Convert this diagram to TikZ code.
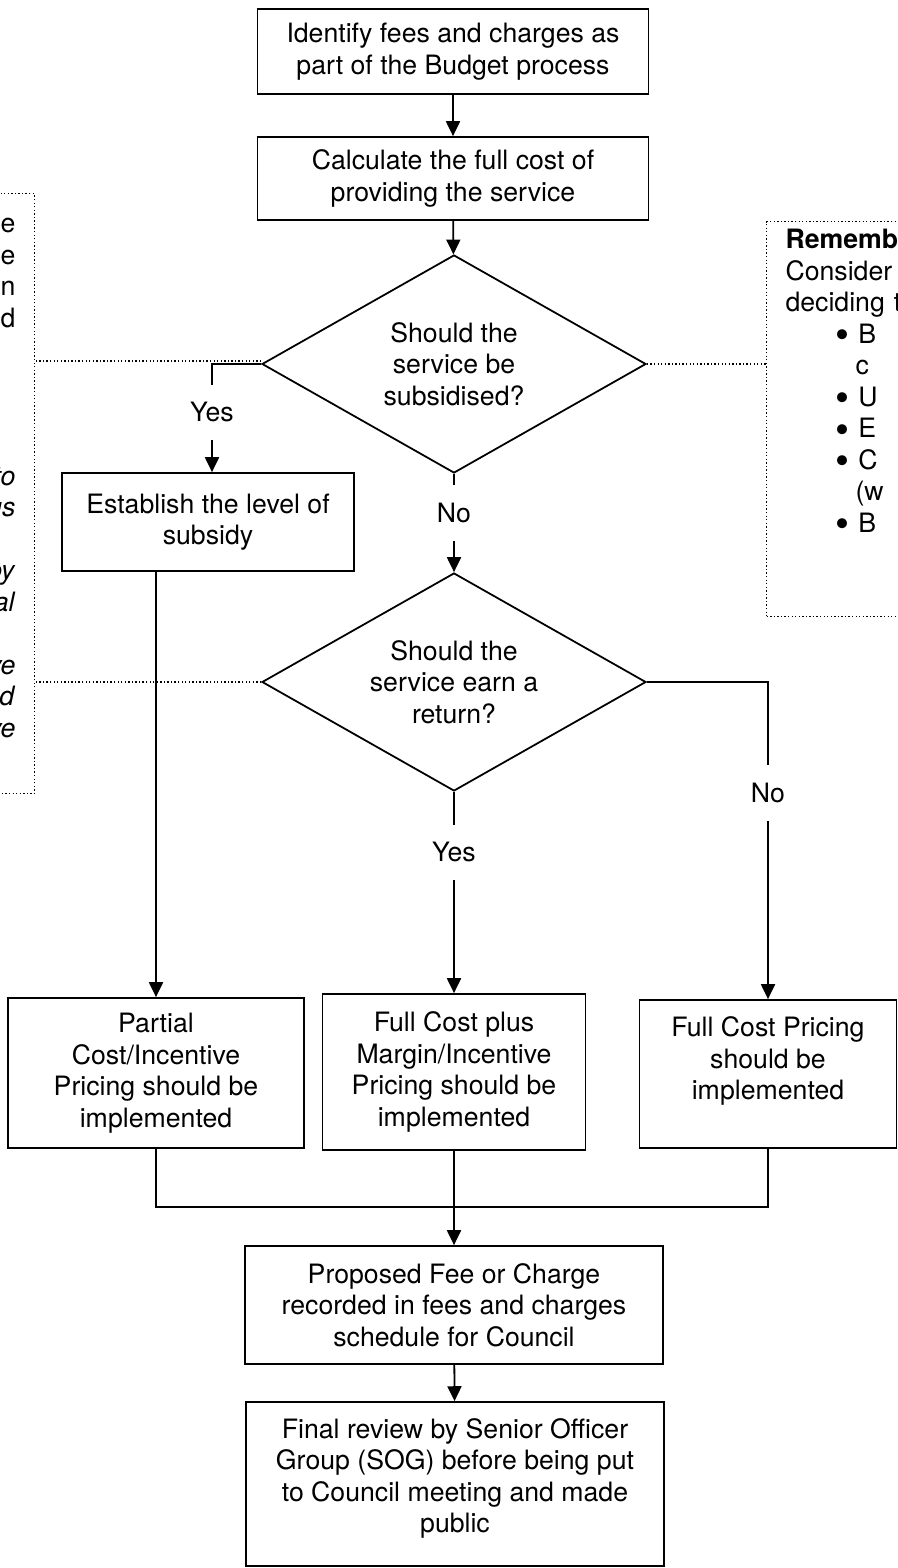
\documentclass[tikz,border=0pt]{standalone}
\usepackage{fontspec}
\setmainfont{TeX Gyre Heros}
\usetikzlibrary{shapes.geometric,arrows.meta}

\newcommand{\dotitem}{\hspace*{22.5pt}\raisebox{-2.4pt}{\scalebox{1.5}{\textbullet}}\hspace*{4pt}}

\tikzset{
  stepbox/.style={draw, line width=0.8pt, align=center, inner sep=0pt},
  decide/.style={diamond, draw, line width=0.8pt, align=center, inner sep=0pt,
    shape aspect=1.76, minimum width=172.8pt, minimum height=98.1pt},
  note/.style={draw, densely dotted, line width=0.6pt, inner xsep=8.5pt, inner ysep=0pt},
  answer/.style={fill=white, inner xsep=2pt, inner ysep=8pt},
  flow/.style={line width=0.8pt},
  link/.style={densely dotted, line width=0.6pt}
}

\begin{document}
\begin{tikzpicture}[x=0.45pt, y=-0.45pt, >={Triangle[length=6.7pt,width=6.3pt]},
  font=\fontsize{12}{14.2}\selectfont]

\useasboundingbox (0,0) rectangle (897,1568);
\clip (0,0) rectangle (897,1568);

% main column
\node[stepbox, minimum width=176pt, minimum height=38.25pt] (fees) at (453,51.5)
  {Identify fees and charges as\\part of the Budget process};
\node[stepbox, minimum width=176pt, minimum height=37.35pt] (cost) at (453,178.5)
  {Calculate the full cost of\\providing the service};
\node[decide] (subs) at (454,364) {Should the\\service be\\subsidised?};
\node[stepbox, minimum width=131.4pt, minimum height=44.1pt] (level) at (208,522)
  {Establish the level of\\subsidy};
\node[decide] (ret) at (454,682) {Should the\\service earn a\\return?};

% pricing options
\node[stepbox, minimum width=133.2pt, minimum height=67.5pt] (partial) at (156,1073)
  {Partial\\Cost/Incentive\\Pricing should be\\implemented};
\node[stepbox, minimum width=118.35pt, minimum height=70.2pt] (margin) at (454,1072)
  {Full Cost plus\\Margin/Incentive\\Pricing should be\\implemented};
\node[stepbox, minimum width=115.65pt, minimum height=66.6pt] (full) at (768,1074)
  {Full Cost Pricing\\should be\\implemented\\\mbox{}};

\node[stepbox, minimum width=188.1pt, minimum height=53.1pt] (prop) at (454,1305)
  {Proposed Fee or Charge\\recorded in fees and charges\\schedule for Council};
\node[stepbox, minimum width=188.1pt, minimum height=73.8pt] (final) at (455,1484)
  {Final review by Senior Officer\\Group (SOG) before being put\\to Council meeting and made\\public\\[-6.6pt]\mbox{}};

% side notes (cut by the page edge)
\node[note, anchor=north east, text width=100pt, align=right, minimum height=270pt] (rules) at (35,193)
  {e\\e\\n\\d\\\mbox{}\\\mbox{}\\\mbox{}\\\mbox{}\\\textit{to}\\\textit{us}\\\mbox{}\\\textit{by}\\\textit{al}\\\mbox{}\\\textit{ve}\\\textit{od}\\\textit{ve}\\\mbox{}};
\node[note, anchor=north west, text width=300pt, align=left, minimum height=177.75pt] (remind) at (766,221)
  {\textbf{Rememb}\\Consider\\deciding t\\
   \dotitem B\\\hspace*{31.5pt}c\\
   \dotitem U\\
   \dotitem E\\
   \dotitem C\\\hspace*{31.5pt}(w\\
   \dotitem B\\\mbox{}\\\mbox{}\\[-8pt]\mbox{}};

% connectors
\draw[flow,->] (fees) -- (cost);
\draw[flow,->] (cost) -- (subs);
\draw[flow,->] (subs.west) -| node[answer, pos=0.723]{Yes} ([xshift=1.8pt]level.north);
\draw[flow,->] (subs) -- node[answer, pos=0.4]{No} (ret);
\draw[flow,->] (ret.east) -| node[answer, pos=0.675]{No} (full.north);
\draw[flow,->] (ret) -- node[answer, pos=0.3]{Yes} (margin);
\draw[flow,->] (partial.north |- level.south) -- (partial.north);

\coordinate (join) at (454,1207);
\draw[flow] (partial) |- (join) -| (full);
\draw[flow] (margin) -- (join);
\draw[flow,->] (join) -- (prop);
\draw[flow,->] (prop) -- (final);

% dotted links to the notes
\coordinate (sw) at ([yshift=1.35pt]subs.west);
\draw[link] (sw) -- (sw -| rules.east);
\draw[link] (ret.west) -- (ret.west -| rules.east);
\draw[link] (subs.east) -- (subs.east -| remind.west);

\end{tikzpicture}
\end{document}
